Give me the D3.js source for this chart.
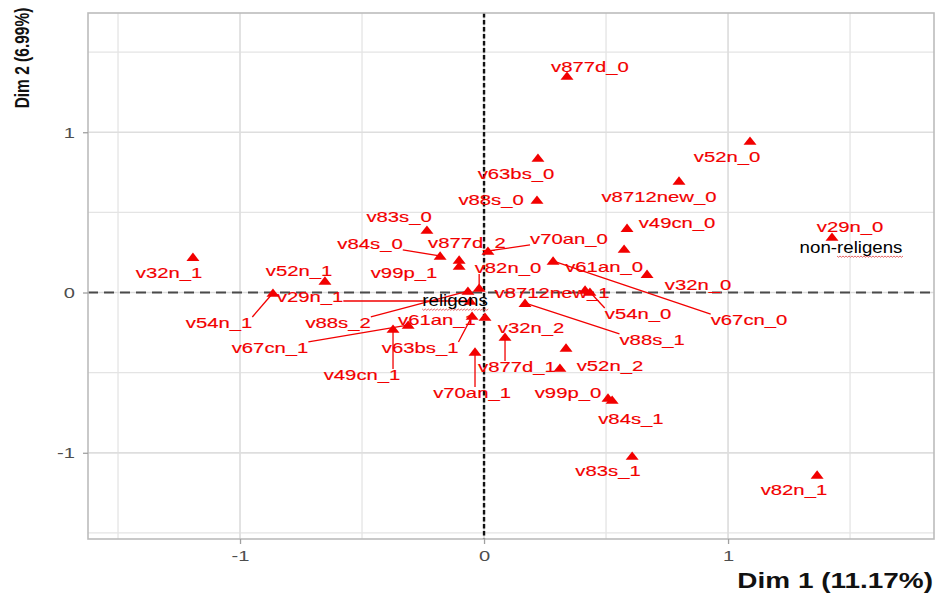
<!DOCTYPE html>
<html><head><meta charset="utf-8">
<script src="https://cdn.jsdelivr.net/npm/d3@7"></script>
<style>html,body{margin:0;padding:0;background:#fff;} svg{display:block;}</style>
</head><body><svg id="c" width="936" height="595"></svg>
<script>
// ---- data ----
const categories = ["v877d_0","v52n_0","v63bs_0","v8712new_0","v88s_0","v49cn_0","v29n_0","v83s_0","v84s_0","v877d_2",
  "v99p_1","v70an_0","v67cn_0","v61an_0","v32n_0","v32n_1","v52n_1","v82n_0","v8712new_1","v54n_0",
  "v88s_1","v32n_2","v877d_1","v52n_2","v99p_0","v84s_1","v83s_1","v82n_1","v54n_1","v29n_1",
  "v88s_2","v61an_1","v63bs_1","v67cn_1","v49cn_1","v70an_1"];
const dim1 = [0.340,1.090,0.221,0.799,0.217,0.586,1.426,-0.234,-0.180,-0.102,
  -0.102,0.016,0.283,0.574,0.668,-1.193,-0.652,-0.020,0.414,0.434,
  0.168,0.336,0.086,0.311,0.508,0.525,0.607,1.365,-0.865,-0.057,
  -0.066,0.004,-0.049,-0.311,-0.373,-0.037];
const dim2 = [1.351,0.945,0.839,0.696,0.577,0.402,0.346,0.390,0.228,0.203,
  0.165,0.259,0.197,0.271,0.115,0.221,0.072,0.028,0.016,0.003,
  -0.066,-0.346,-0.278,-0.471,-0.658,-0.671,-1.020,-1.138,-0.003,-0.053,
  0.009,-0.153,-0.147,-0.203,-0.228,-0.371];
// repelled label positions (data units)
const labelDim1 = [0.434,0.996,0.131,0.717,0.029,0.791,1.500,-0.348,-0.467,-0.070,
  -0.328,0.348,1.086,0.492,0.877,-1.291,-0.758,0.098,0.279,0.631,
  0.689,0.193,0.135,0.516,0.344,0.602,0.508,1.270,-1.086,-0.713,
  -0.598,-0.193,-0.262,-0.877,-0.500,-0.049];
const labelDim2 = [1.407,0.845,0.739,0.596,0.577,0.434,0.409,0.471,0.303,0.309,
  0.122,0.334,-0.172,0.159,0.047,0.122,0.134,0.153,-0.003,-0.134,
  -0.296,-0.221,-0.465,-0.459,-0.627,-0.789,-1.113,-1.232,-0.190,-0.028,
  -0.190,-0.172,-0.346,-0.346,-0.515,-0.627];
const hasSegment = [0,0,0,0,0,0,0,0,1,0,
  0,1,1,0,0,0,0,1,0,1,
  1,0,1,0,0,0,0,0,1,1,
  1,0,1,1,1,1];
const xTicks = [-1,0,1];
const yTicks = [-1,0,1];
const xMinor = [-1.5,-0.5,0.5,1.5];
const yMinor = [-1.5,-0.5,0.5,1.5];
const xDomain = [-1.623,1.844];
const yDomain = [-1.538,1.744];
const notes = ["religens","non-religens"];
const noteDim1 = [-0.119,1.504];
const noteDim2 = [-0.047,0.284];
const xTitle = "Dim 1 (11.17%)";
const yTitle = "Dim 2 (6.99%)";

// ---- layout ----
const panel = {l:88, r:934, t:13, b:539};
const x = d3.scaleLinear().domain(xDomain).range([panel.l, panel.r]);
const y = d3.scaleLinear().domain(yDomain).range([panel.b, panel.t]);
const svg = d3.select("#c");
const font = "'Liberation Sans', Arial, sans-serif";
const SX = 1.45; // horizontal stretch of the labels
const red = "#f20000";

svg.append("rect").attr("width",936).attr("height",595).attr("fill","#fff");

// grid
const grid = svg.append("g");
grid.selectAll(".vmin").data(xMinor).join("line")
  .attr("x1",d=>x(d)).attr("x2",d=>x(d)).attr("y1",panel.t).attr("y2",panel.b)
  .attr("stroke","#e4e4e4").attr("stroke-width",1.3);
grid.selectAll(".hmin").data(yMinor).join("line").attr("class","hmin")
  .attr("y1",d=>y(d)).attr("y2",d=>y(d)).attr("x1",panel.l).attr("x2",panel.r)
  .attr("stroke","#e4e4e4").attr("stroke-width",1.3);
grid.selectAll(".vmaj").data(xTicks).join("line").attr("class","vmaj")
  .attr("x1",d=>x(d)).attr("x2",d=>x(d)).attr("y1",panel.t).attr("y2",panel.b)
  .attr("stroke","#dedede").attr("stroke-width",1.7);
grid.selectAll(".hmaj").data(yTicks).join("line").attr("class","hmaj")
  .attr("y1",d=>y(d)).attr("y2",d=>y(d)).attr("x1",panel.l).attr("x2",panel.r)
  .attr("stroke","#dedede").attr("stroke-width",1.7);

// zero reference lines
svg.append("line").attr("x1",panel.l).attr("x2",panel.r).attr("y1",y(0)).attr("y2",y(0))
  .attr("stroke","#4a4a4a").attr("stroke-width",1.8).attr("stroke-dasharray","10,6");
svg.append("line").attr("x1",x(0)).attr("x2",x(0)).attr("y1",panel.t).attr("y2",panel.b)
  .attr("stroke","#111").attr("stroke-width",2.4).attr("stroke-dasharray","4.5,2.5");

// panel border
svg.append("rect").attr("x",panel.l).attr("y",panel.t)
  .attr("width",panel.r-panel.l).attr("height",panel.b-panel.t)
  .attr("fill","none").attr("stroke","#bcbcbc").attr("stroke-width",1.6);

// axes
const xAxis = svg.append("g").attr("transform",`translate(0,${panel.b})`)
  .call(d3.axisBottom(x).tickValues(xTicks).tickSize(5).tickSizeOuter(0).tickPadding(6).tickFormat(d=>String(d)));
const yAxis = svg.append("g").attr("transform",`translate(${panel.l},0)`)
  .call(d3.axisLeft(y).tickValues(yTicks).tickSize(5).tickSizeOuter(0).tickPadding(5).tickFormat(d=>String(d)));
[xAxis,yAxis].forEach(a=>{
  a.select(".domain").remove();
  a.selectAll(".tick line").attr("stroke","#a0a0a0").attr("stroke-width",1.3);
  a.selectAll(".tick text").attr("fill","#4d4d4d").attr("font-family",font).attr("font-size",15.5)
    .attr("transform","scale(1.3,1)");
});

// axis titles
svg.append("text").attr("transform","translate(933,588) scale(1.3,1)")
  .attr("text-anchor","end").attr("font-family",font).attr("font-weight","bold")
  .attr("font-size",21.5).attr("fill","#111").text(xTitle);
svg.append("text").attr("transform","translate(28.5,58) scale(1.3,1) rotate(-90)")
  .attr("text-anchor","middle").attr("font-family",font).attr("font-weight","bold")
  .attr("font-size",15.5).attr("fill","#111").text(yTitle);

// marks
const idx = d3.range(categories.length);
const segG = svg.append("g");
const triG = svg.append("g");
const labG = svg.append("g");

triG.selectAll("path").data(idx).join("path")
  .attr("d", i => { const px=x(dim1[i]), py=y(dim2[i]);
    return `M${px-6.5},${py+3.8}L${px+6.5},${py+3.8}L${px},${py-4.6}Z`; })
  .attr("fill", red);

const labels = labG.selectAll("text").data(idx).join("text")
  .attr("transform", i => `translate(${x(labelDim1[i])},${y(labelDim2[i])}) scale(${SX},1)`)
  .attr("text-anchor","middle").attr("dy","0.36em")
  .attr("font-family",font).attr("font-size",14).attr("fill",red)
  .attr("stroke",red).attr("stroke-width",0.15)
  .text(i => categories[i]);

// segments from label box to point
labels.each(function(i){
  if (!hasSegment[i]) return;
  const w = this.getComputedTextLength()*SX, h = 12;
  const cx = x(labelDim1[i]), cy = y(labelDim2[i]);
  const px = x(dim1[i]), py = y(dim2[i]);
  const sx = Math.max(cx-w/2, Math.min(px, cx+w/2));
  const sy = Math.max(cy-h/2, Math.min(py, cy+h/2));
  const dx = px-sx, dy = py-sy, L = Math.hypot(dx,dy);
  if (L < 4) return;
  const ex = px - dx/L*2, ey = py - dy/L*2;
  segG.append("line").attr("x1",sx).attr("y1",sy).attr("x2",ex).attr("y2",ey)
    .attr("stroke",red).attr("stroke-width",1.3);
});

// black annotations with spell-check underline
const NS = 1.1;
notes.forEach((t,k)=>{
  const cx = x(noteDim1[k]), cy = y(noteDim2[k]);
  const tx = svg.append("text").attr("transform",`translate(${cx},${cy}) scale(${NS},1)`)
    .attr("text-anchor","middle").attr("dy","0.35em")
    .attr("font-family",font).attr("font-size",17).attr("fill","#000").text(t);
  const node = tx.node();
  const total = node.getComputedTextLength()*NS;
  const start = t.indexOf("religens");
  const pre = start>0 ? node.getSubStringLength(0,start)*NS : 0;
  const wl = node.getSubStringLength(start,8)*NS;
  const x0 = cx - total/2 + pre, x1 = x0 + wl, yy = cy + 9;
  let d = `M${x0},${yy}`;
  for (let xx = x0, s = 0; xx < x1; xx += 1.5, s++) d += `L${xx+1.5},${yy + (s%2 ? 0 : 1.3)}`;
  svg.append("path").attr("d",d).attr("fill","none").attr("stroke","#e04040").attr("stroke-width",0.8);
});
</script></body></html>
